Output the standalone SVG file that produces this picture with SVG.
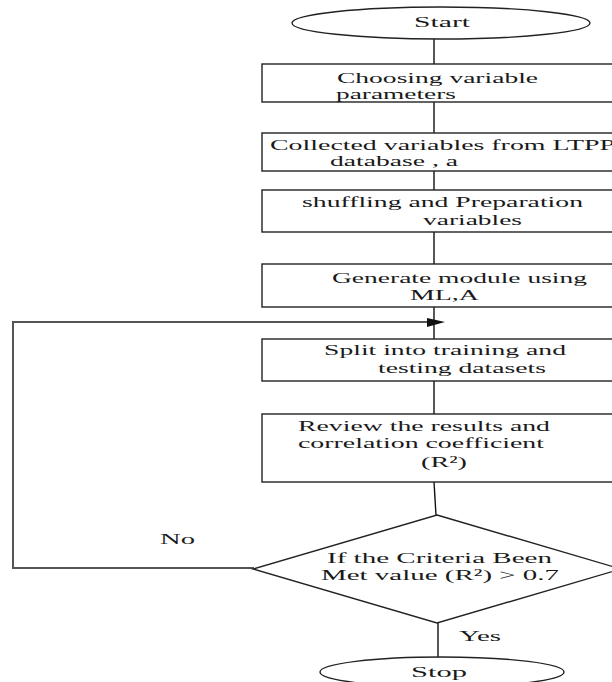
<svg xmlns="http://www.w3.org/2000/svg" width="612" height="682" viewBox="0 0 612 682">
<style>
.shape{fill:#fff;stroke:#222;stroke-width:1.4}
.ln{stroke:#111;stroke-width:1.4;fill:none}
.fb{stroke:#555;stroke-width:2;fill:none}
text{font-family:"Liberation Serif","Times New Roman",serif;font-size:15.5px;fill:#1a1a1a}
.sm{font-size:14.5px}
</style>
<rect width="612" height="682" fill="#fff"/>
<g id="connectors">
<line class="ln" x1="434" y1="39" x2="434" y2="64"/>
<line class="ln" x1="434" y1="102" x2="434" y2="133"/>
<line class="ln" x1="434" y1="171" x2="434" y2="190"/>
<line class="ln" x1="434" y1="232" x2="434" y2="264"/>
<line class="ln" x1="434" y1="307" x2="434" y2="339"/>
<line class="ln" x1="434" y1="381" x2="434" y2="414"/>
<line class="ln" x1="434" y1="482" x2="436" y2="515"/>
<line class="ln" x1="438" y1="623" x2="438" y2="657"/>
<polyline class="fb" points="254,568 13,568 13,322 428,322"/>
<polygon points="427,318 445,322 427,327" fill="#111"/>
<text x="160" y="544" textLength="35" lengthAdjust="spacingAndGlyphs">No</text>
<text x="459" y="641" textLength="42" lengthAdjust="spacingAndGlyphs">Yes</text>
</g>
<g id="start">
<ellipse class="shape" cx="441" cy="23" rx="149" ry="16"/>
<text x="414" y="27" textLength="56" lengthAdjust="spacingAndGlyphs">Start</text>
</g>
<g id="choose">
<rect class="shape" x="262" y="64" width="380" height="38"/>
<text x="337" y="83" textLength="201" lengthAdjust="spacingAndGlyphs">Choosing variable</text>
<text x="336" y="99" textLength="120" lengthAdjust="spacingAndGlyphs">parameters</text>
</g>
<g id="collect">
<rect class="shape" x="262" y="133" width="380" height="38"/>
<text x="270" y="150" textLength="345" lengthAdjust="spacingAndGlyphs">Collected variables from LTPP</text>
<text x="330" y="166" textLength="128" lengthAdjust="spacingAndGlyphs">database , a</text>
</g>
<g id="shuffle">
<rect class="shape" x="262" y="190" width="380" height="42"/>
<text x="302" y="207" textLength="281" lengthAdjust="spacingAndGlyphs">shuffling and Preparation</text>
<text x="423" y="225" textLength="99" lengthAdjust="spacingAndGlyphs">variables</text>
</g>
<g id="generate">
<rect class="shape" x="262" y="264" width="380" height="43"/>
<text x="332" y="283" textLength="255" lengthAdjust="spacingAndGlyphs">Generate module using</text>
<text x="410" y="300" textLength="69" lengthAdjust="spacingAndGlyphs">ML,A</text>
</g>
<g id="split">
<rect class="shape" x="262" y="339" width="380" height="42"/>
<text x="324" y="355" textLength="242" lengthAdjust="spacingAndGlyphs">Split into training and</text>
<text x="378" y="373" textLength="168" lengthAdjust="spacingAndGlyphs">testing datasets</text>
</g>
<g id="review">
<rect class="shape" x="262" y="414" width="380" height="68"/>
<text class="sm" x="298" y="431" textLength="252" lengthAdjust="spacingAndGlyphs">Review the results and</text>
<text class="sm" x="298" y="448" textLength="246" lengthAdjust="spacingAndGlyphs">correlation coefficient</text>
<text x="421" y="467" textLength="46" lengthAdjust="spacingAndGlyphs">(R²)</text>
</g>
<g id="decision">
<polygon class="shape" points="437,515 621,569 437,623 253,569"/>
<text x="327" y="563" textLength="225" lengthAdjust="spacingAndGlyphs">If the Criteria Been</text>
<text x="321" y="580" textLength="238" lengthAdjust="spacingAndGlyphs">Met value (R²) &gt; 0.7</text>
</g>
<g id="stop">
<ellipse class="shape" cx="442" cy="672" rx="122" ry="15"/>
<text x="411" y="677" textLength="56" lengthAdjust="spacingAndGlyphs">Stop</text>
</g>
</svg>
